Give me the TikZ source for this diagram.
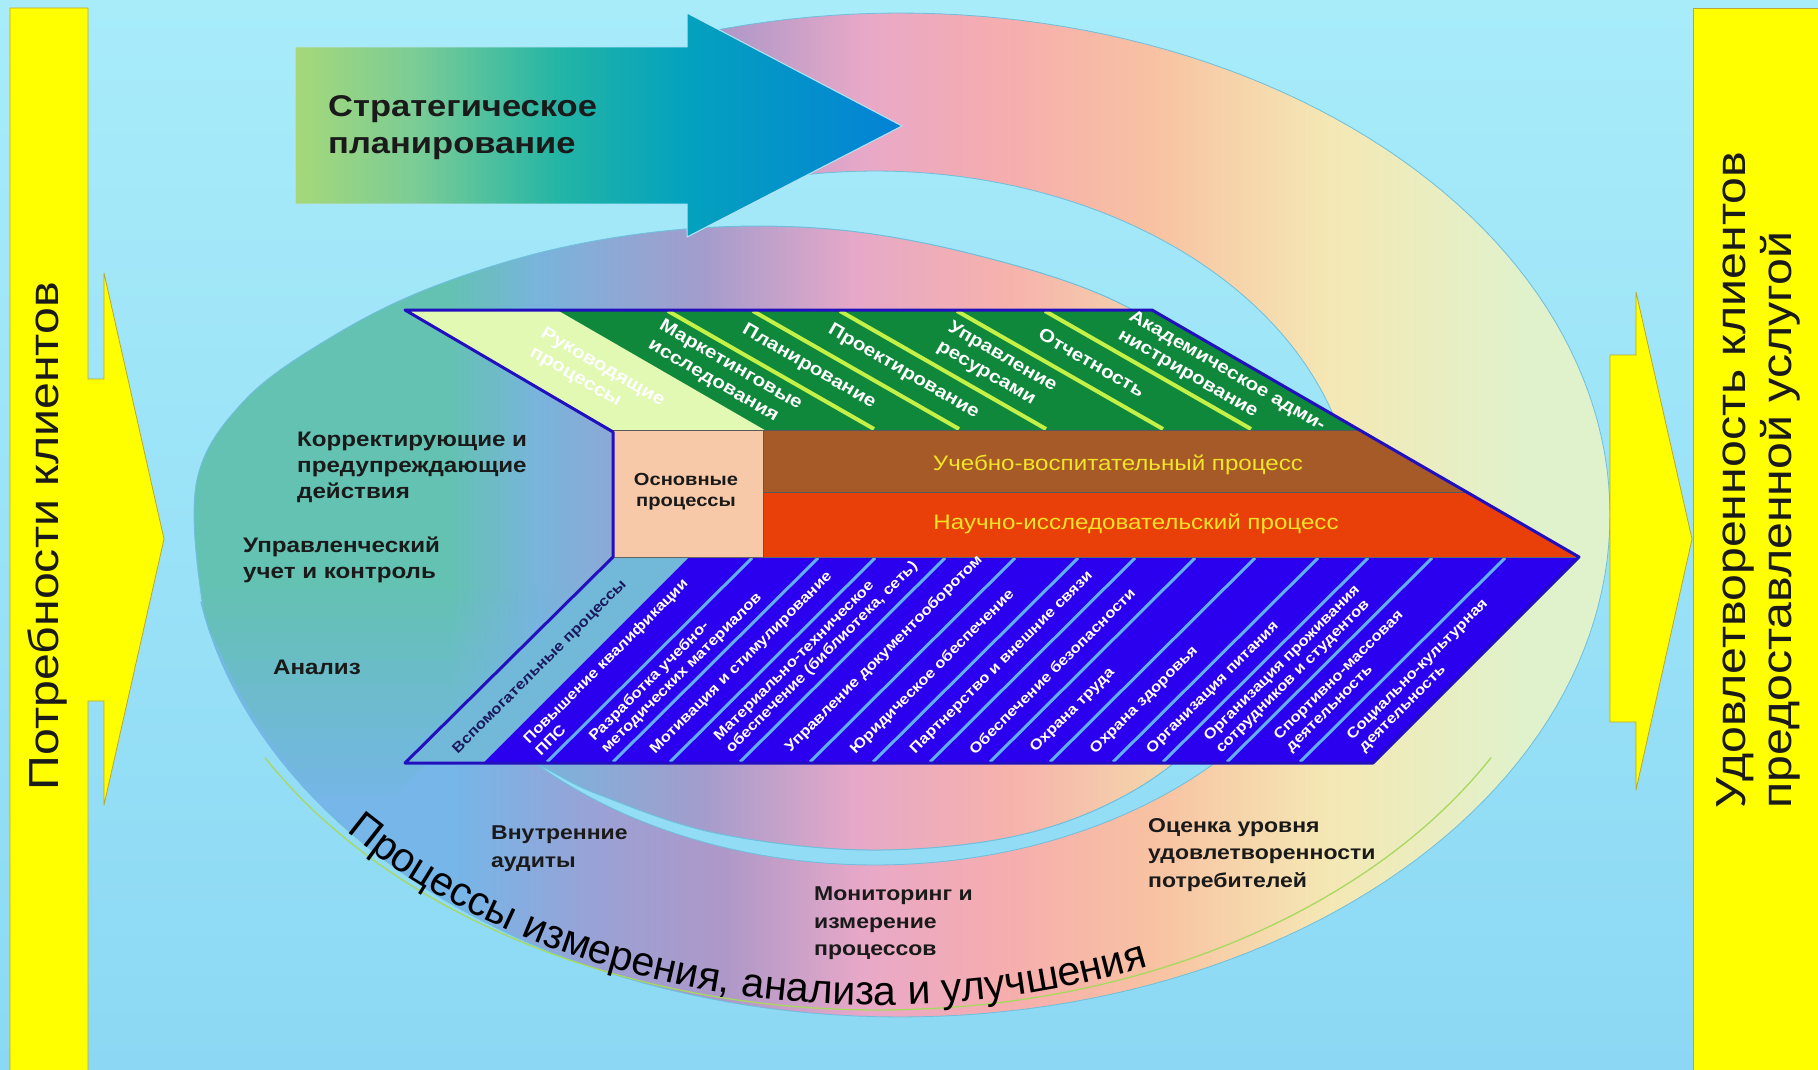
\documentclass[tikz,border=0pt]{standalone}
\usepackage{fontspec}
\setmainfont[FakeStretch=1.15]{Liberation Sans}
\newfontfamily\arcfam{Liberation Sans}
\usetikzlibrary{decorations.text}

\definecolor{bgtop}{HTML}{A8ECFA}
\definecolor{bgmid}{HTML}{8EDAF4}
\definecolor{bgbot}{HTML}{8CD8F4}
\definecolor{yel}{HTML}{FFFF00}
\definecolor{yelb}{HTML}{B8A830}
\definecolor{stripgreen}{HTML}{10883C}
\definecolor{palegreen}{HTML}{E2F9B4}
\definecolor{sepgreen}{HTML}{C4F048}
\definecolor{bandbrown}{HTML}{A65A28}
\definecolor{bandred}{HTML}{E84008}
\definecolor{salmon}{HTML}{F8C9A8}
\definecolor{stripblue}{HTML}{2A00EE}
\definecolor{sepblue}{HTML}{62B0F0}
\definecolor{auxband}{HTML}{72B8D8}
\definecolor{edgeblue}{HTML}{2210C0}
\definecolor{bandtext}{HTML}{F4E428}
\definecolor{arcline}{HTML}{A8D860}
\definecolor{txt}{HTML}{1A1A1A}
\definecolor{auxtext}{HTML}{1A1A60}
\definecolor{shapeedge}{HTML}{6EBEDC}

\definecolor{r1}{HTML}{76B6E8}
\definecolor{r2}{HTML}{9CA0D4}
\definecolor{r3}{HTML}{AE98C8}
\definecolor{r4}{HTML}{E8A8C8}
\definecolor{r5}{HTML}{F6ADAE}
\definecolor{r6}{HTML}{F8C2A2}
\definecolor{r7}{HTML}{F4E8B4}
\definecolor{r8}{HTML}{E0F2CC}
\pgfdeclarehorizontalshading{ringshade}{100bp}{color(0bp)=(r1); color(25bp)=(r1); color(34bp)=(r1); color(39.4bp)=(r2); color(43.6bp)=(r3); color(48.5bp)=(r4); color(53.5bp)=(r5); color(58.8bp)=(r6); color(65.1bp)=(r7); color(72bp)=(r8); color(100bp)=(r8)}

\definecolor{e1}{HTML}{64C2B2}
\definecolor{e2}{HTML}{78B4DC}
\definecolor{e3}{HTML}{A49CCC}
\definecolor{e4}{HTML}{E6A8C8}
\definecolor{e5}{HTML}{F6B2AC}
\definecolor{e6}{HTML}{F4D4AA}
\definecolor{e7}{HTML}{EEEAB8}
\pgfdeclarehorizontalshading{eshade}{100bp}{color(0bp)=(e1); color(25bp)=(e1); color(37bp)=(e1); color(41bp)=(e2); color(48.7bp)=(e3); color(55.7bp)=(e4); color(62.7bp)=(e5); color(69.6bp)=(e6); color(75bp)=(e7); color(100bp)=(e7)}

\definecolor{s1}{HTML}{A6D87A}
\definecolor{s2}{HTML}{7ACC96}
\definecolor{s3}{HTML}{22B4A6}
\definecolor{s4}{HTML}{04A2BE}
\definecolor{s5}{HTML}{0482D6}
\pgfdeclarehorizontalshading{stratshade}{100bp}{color(0bp)=(s1); color(25bp)=(s1); color(35bp)=(s2); color(47bp)=(s3); color(57bp)=(s4); color(75bp)=(s5); color(100bp)=(s5)}

\newcommand\fsz[2]{\fontsize{#1}{#2}\selectfont}
\newcommand\arcfont{\arcfam\fontsize{41}{48}\selectfont}
\newcommand\gcell[4]{\node[gtext] (#1) at ({#2+#3*0.866},{310+#3*0.5}) {#4};}
\newcommand\bcell[4]{\node[btext] (#1) at ({#2+#3*0.7071},{763-#3*0.7071}) {#4};}

\tikzset{
  gtext/.style={rotate=-30, anchor=west, align=left, text=white, font=\fsz{18}{22}\bfseries, inner sep=0},
  btext/.style={rotate=45, anchor=west, align=left, text=white, font=\fsz{14.5}{17}\bfseries, inner sep=0},
  ltext/.style={anchor=north west, align=left, text=txt, font=\fsz{21}{26}\bfseries, inner sep=0},
  mtext/.style={anchor=north west, align=left, text=txt, font=\fsz{20}{27.5}\bfseries, inner sep=0},
  ybar/.style={fill=yel, draw=yelb, line width=0.8},
  bartext/.style={text=txt, font=\fsz{42}{46}, inner sep=0},
}

\begin{document}
\begin{tikzpicture}[x=1pt,y=-1pt,line join=round]
\useasboundingbox (0,0) rectangle (1818,1070);
\shade[top color=bgtop, middle color=bgmid, bottom color=bgbot] (0,0) rectangle (1818,1070);

% big ring (circular arrow band)
\shade[shading=ringshade, draw=shapeedge, line width=0.8]
  plot[domain=-106:170,samples=160] ({900+710*cos(\x)},{515+502*sin(\x)})
  -- plot[domain=170:-106,samples=160] ({875+480*cos(\x)},{518+347*sin(\x)}) -- cycle;

% inner region
\shade[shading=eshade, draw=shapeedge, line width=1]
  plot[smooth cycle, tension=0.6] coordinates {
  (197,480) (245,400) (330,338) (430,288) (560,248) (700,228)
  (840,230) (980,256) (1113,300) (1210,365) (1262,450) (1270,560) (1240,680)
  (1165,770) (1040,830) (881,850) (720,834) (600,795) (545,768) (500,745)
  (440,752) (385,800) (322,800) (292,770) (255,720) (223,660) (202,600)};

% soft blend teal -> blue at lower left (stacked translucent bands)
\begin{scope}
  \clip plot[domain=0:360,samples=160] ({900+710*cos(\x)},{515+502*sin(\x)});
  \clip (180,590) -- (598,590) -- (425,763) -- (425,810) -- (180,810) -- cycle;
  \foreach \k in {1,...,16}
    \fill[r1, opacity=\k/16] (180,{590+(\k-1)*13.75}) rectangle (620,{590+\k*13.75});
\end{scope}

% thin guide arc and arc text
\draw[arcline, line width=1.3] plot[domain=151:29, samples=120] ({878+701*cos(\x)},{520+490*sin(\x)});
\path[decorate, decoration={text along path, text align=left,
   text={|\arcfont|Процессы измерения{,} анализа и улучшения}}]
   plot[domain=140:60, samples=120] ({878+694*cos(\x)},{520+485*sin(\x)});

% strategic planning arrow
\shadedraw[shading=stratshade, draw=white!70!cyan, line width=1]
  (295,47) -- (687,47) -- (687,13) -- (902,126) -- (687,237) -- (687,204) -- (295,204) -- cycle;
\node[anchor=north west, align=left, text=txt, font=\fsz{30}{37}\bfseries, inner sep=0] (strat) at (328,95) {Стратегическое\\планирование};

% green (management) strip
\fill[stripgreen] (405,310) -- (1152,310) -- (1359,430) -- (613,430) -- cycle;
\fill[palegreen] (405,310) -- (557,310) -- (764.6,430) -- (613,430) -- cycle;
\foreach \a in {668,753,840,957,1045} \draw[sepgreen, line width=4] (\a,311) -- ({\a+206},429);

% main processes
\fill[bandbrown] (763,430) -- (1359,430) -- (1467,492) -- (763,492) -- cycle;
\fill[bandred] (763,492) -- (1467,492) -- (1579,557) -- (763,557) -- cycle;
\fill[salmon] (613,430) rectangle (763,557);
\draw[black!65, line width=1] (613,430) -- (1359,430) (763,492) -- (1467,492) (763,430) -- (763,557);

% blue (support) strip
\fill[stripblue] (613,557) -- (1579,557) -- (1373,763) -- (405,763) -- cycle;
\fill[auxband] (405,763) -- (613,557) -- (689,557) -- (483,763) -- cycle;
\foreach \a in {547,613,670,740,810,873,930,990,1050,1113,1163,1227,1300} \draw[sepblue, line width=3] (\a,762) -- ({\a+205},558);
\draw[black!60, line width=0.8] (613,557) -- (1579,557);

% outline
\draw[edgeblue, line width=3] (613,557) -- (613,432) -- (405,310) -- (1152,310) -- (1579,557) -- (1373,763) -- (405,763) -- cycle;

% texts in green strip
\gcell{g1}{481}{64}{Руководящие\\процессы}
\gcell{g2}{612.5}{49}{Маркетинговые\\исследования}
\gcell{g3}{710.5}{38}{Планирование}
\gcell{g4}{796.5}{38}{Проектирование}
\gcell{g5}{898.5}{52}{Управление\\ресурсами}
\gcell{g6}{1001}{45}{Отчетность}
\gcell{g7}{1098.5}{30}{Академическое адми-\\нистрирование}

% main process texts
\node[align=center, text=txt, font=\fsz{17.5}{21}\bfseries, inner sep=0] (osn) at (686,492) {Основные\\процессы};
\node[text=bandtext, font=\fsz{21}{25}, inner sep=0] (uvp) at (1118,465) {Учебно-воспитательный процесс};
\node[text=bandtext, font=\fsz{21}{25}, inner sep=0] (nip) at (1136,524) {Научно-исследовательский процесс};

% texts in blue strip
\node[btext, text=auxtext] (b0) at ({444+16*0.7071},{763-16*0.7071}) {Вспомогательные процессы};
\bcell{b1}{515}{23}{Повышение квалификации\\ППС}
\bcell{b2}{580}{25}{Разработка учебно-\\методических материалов}
\bcell{b3}{641.5}{16}{Мотивация и стимулирование}
\bcell{b4}{705}{25}{Материально-техническое\\обеспечение (библиотека, сеть)}
\bcell{b5}{775}{18}{Управление документооборотом}
\bcell{b6}{841.5}{16}{Юридическое обеспечение}
\bcell{b7}{901.5}{16}{Партнерство и внешние связи}
\bcell{b8}{960}{16}{Обеспечение безопасности}
\bcell{b9}{1020}{18}{Охрана труда}
\bcell{b10}{1081.5}{16}{Охрана здоровья}
\bcell{b11}{1138}{16}{Организация питания}
\bcell{b12}{1195}{25}{Организация проживания\\сотрудников и студентов}
\bcell{b13}{1263.5}{27}{Спортивно-массовая\\деятельность}
\bcell{b14}{1336.5}{27}{Социально-культурная\\деятельность}

% left texts
\node[ltext] (korr) at (297,432) {Корректирующие и\\предупреждающие\\действия};
\node[ltext] (upr) at (243,537) {Управленческий\\учет и контроль};
\node[ltext] (anal) at (273,660) {Анализ};

% bottom texts
\node[mtext] (audit) at (491,826) {Внутренние\\аудиты};
\node[mtext] (monit) at (814,887) {Мониторинг и\\измерение\\процессов};
\node[mtext] (ocen) at (1148,818) {Оценка уровня\\удовлетворенности\\потребителей};

% yellow bars and arrows
\filldraw[ybar] (10,8) -- (88,8) -- (88,379) -- (104,379) -- (104,273) -- (164,539) -- (104,805) -- (104,701) -- (88,701) -- (88,1075) -- (10,1075) -- cycle;
\node[bartext, rotate=90] (needs) at (47,536) {Потребности клиентов};
\filldraw[ybar] (1610,355) -- (1636,355) -- (1636,292) -- (1692,539) -- (1636,790) -- (1636,722) -- (1610,722) -- cycle;
\filldraw[ybar] (1693,8) rectangle (1825,1075);
\node[bartext, rotate=90, anchor=west, align=left] (satisf) at (1758,809) {Удовлетворенность клиентов\\предоставленной услугой};
\end{tikzpicture}
\end{document}
